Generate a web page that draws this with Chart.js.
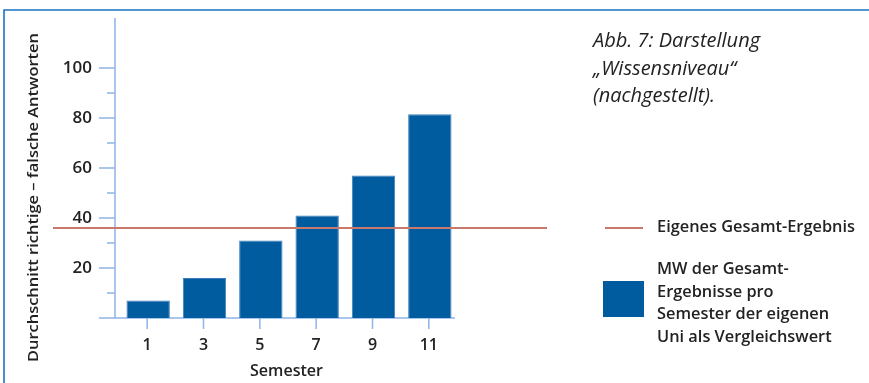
<!DOCTYPE html>
<html>
<head>
<meta charset="utf-8">
<script src="https://cdn.jsdelivr.net/npm/chart.js@4.4.1/dist/chart.umd.min.js"></script>
<style>
  html, body { margin: 0; padding: 0; background: #fff; overflow: hidden; }
</style>
</head>
<body>
<canvas id="chart" width="869" height="383"></canvas>
<script>
// data
const semesters = ['1', '3', '5', '7', '9', '11'];
const meanScores = [7, 16, 31, 41, 57, 81.5];
const ownResult = 36;
const yMajorTicks = [20, 40, 60, 80, 100];
const yMinorTicks = [10, 30, 50, 70, 90];
const lineLabel = 'Eigenes Gesamt-Ergebnis';
const barLabel = ['MW der Gesamt-', 'Ergebnisse pro', 'Semester der eigenen', 'Uni als Vergleichswert'];
const caption = ['Abb. 7: Darstellung', '„Wissensniveau“', '(nachgestellt).'];
const yTitle = 'Durchschnitt richtige – falsche Antworten';
const xTitle = 'Semester';

const BLUE = '#005b9f';
const AXIS = '#8fb4e6';
const RED = '#c9786c';
const TEXT = '#222';
const FONT = '"Open Sans", sans-serif';

// the figure's font is wider than Open Sans, so text is stretched a little
function wideText(ctx, text, x, y, sx) {
  ctx.save();
  ctx.translate(x, y);
  ctx.scale(sx, 1);
  ctx.fillText(text, 0, 0);
  ctx.restore();
}

const decor = {
  id: 'decor',
  beforeDatasetsDraw(chart) {
    const {ctx, scales: {x, y}} = chart;
    const x0 = 115, y0 = y.getPixelForValue(0);
    ctx.save();
    // frame of the figure
    ctx.strokeStyle = '#1a73c0';
    ctx.lineWidth = 1.6;
    ctx.beginPath();
    ctx.moveTo(4, 383); ctx.lineTo(4, 10); ctx.lineTo(869, 10);
    ctx.stroke();

    // axes
    ctx.strokeStyle = AXIS;
    ctx.lineWidth = 1.5;
    ctx.beginPath();
    ctx.moveTo(x0, y.getPixelForValue(120)); ctx.lineTo(x0, y0);
    ctx.moveTo(99, y0); ctx.lineTo(x.right - 3, y0);
    yMajorTicks.forEach(v => { const p = y.getPixelForValue(v); ctx.moveTo(99, p); ctx.lineTo(x0, p); });
    yMinorTicks.forEach(v => { const p = y.getPixelForValue(v); ctx.moveTo(107, p); ctx.lineTo(x0, p); });
    semesters.forEach((s, i) => { const p = x.getPixelForValue(i) - 1; ctx.moveTo(p, y0); ctx.lineTo(p, y0 + 11); });
    ctx.stroke();

    // tick labels
    ctx.fillStyle = TEXT;
    ctx.font = '600 17px ' + FONT;
    ctx.textAlign = 'right';
    ctx.textBaseline = 'middle';
    yMajorTicks.forEach(v => ctx.fillText(String(v), 92, y.getPixelForValue(v)));
    ctx.textAlign = 'center';
    ctx.font = '600 16px ' + FONT;
    semesters.forEach((s, i) => ctx.fillText(s, x.getPixelForValue(i) - 1, 345));

    // axis titles
    ctx.font = '600 15.5px ' + FONT;
    ctx.textAlign = 'left';
    wideText(ctx, xTitle, 250, 372, 73 / ctx.measureText(xTitle).width);
    ctx.save();
    ctx.translate(34, 362);
    ctx.rotate(-Math.PI / 2);
    ctx.font = '600 15px ' + FONT;
    wideText(ctx, yTitle, 0, 0, 329 / ctx.measureText(yTitle).width);
    ctx.restore();
    ctx.restore();
  },
  afterDatasetsDraw(chart) {
    const {ctx, scales: {y}} = chart;
    const py = y.getPixelForValue(ownResult);
    ctx.save();
    ctx.strokeStyle = RED;
    ctx.lineWidth = 2;
    ctx.beginPath();
    ctx.moveTo(53, py); ctx.lineTo(547, py);
    ctx.stroke();

    // legend
    ctx.beginPath();
    ctx.moveTo(605, 228); ctx.lineTo(643, 228);
    ctx.stroke();
    ctx.fillStyle = BLUE;
    ctx.fillRect(603, 281, 41, 36);

    ctx.fillStyle = TEXT;
    ctx.font = '600 15.5px ' + FONT;
    ctx.textAlign = 'left';
    ctx.textBaseline = 'middle';
    const sx = 198 / ctx.measureText(lineLabel).width;
    wideText(ctx, lineLabel, 657, 228, sx);
    barLabel.forEach((t, i) => wideText(ctx, t, 657, 270 + i * 22.5, sx));

    // caption
    ctx.font = 'italic 20px ' + FONT;
    ctx.textBaseline = 'alphabetic';
    caption.forEach((t, i) => ctx.fillText(t, 593, 47 + i * 27.5));
    ctx.restore();
  }
};

new Chart(document.getElementById('chart'), {
  type: 'bar',
  data: {
    labels: semesters,
    datasets: [{
      label: barLabel.join(' '),
      data: meanScores,
      backgroundColor: BLUE,
      borderColor: '#3f7fbd',
      borderWidth: 1,
      barPercentage: 0.77,
      categoryPercentage: 1
    }]
  },
  options: {
    responsive: false,
    animation: false,
    devicePixelRatio: 1,
    layout: {padding: {left: 120, right: 411, top: 18, bottom: 65}},
    scales: {
      x: {display: false},
      y: {display: false, min: 0, max: 120}
    },
    plugins: {legend: {display: false}, tooltip: {enabled: false}}
  },
  plugins: [decor]
});
</script>
</body>
</html>
